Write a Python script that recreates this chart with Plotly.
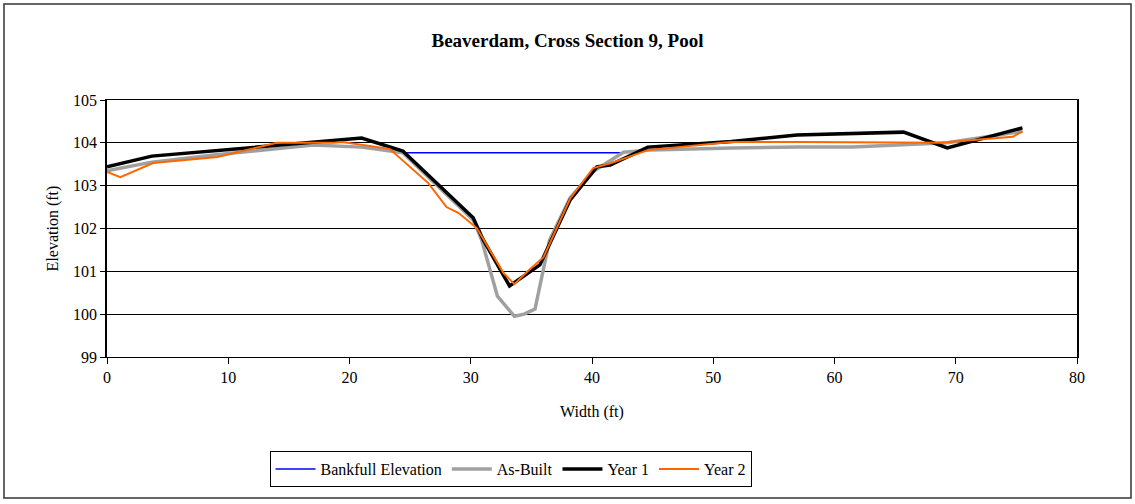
import plotly.graph_objects as go

# Bankfull elevation
bank_x = [24.4, 42.6]
bank_y = [103.77, 103.77]

# As-Built
ab_x = [0, 3.7, 9.0, 14.0, 17.0, 21.0, 24.4, 30.2, 30.9, 32.2, 33.6, 34.4, 35.3, 36.5, 38.2, 40.2, 42.6, 44.8, 51.5, 57.0, 61.5, 69.3, 75.5]
ab_y = [103.35, 103.55, 103.72, 103.87, 103.95, 103.9, 103.77, 102.2, 101.73, 100.42, 99.95, 100.0, 100.12, 101.73, 102.72, 103.35, 103.78, 103.83, 103.88, 103.9, 103.9, 104.0, 104.27]

# Year 1
y1_x = [0, 3.7, 21.0, 24.4, 30.2, 31.0, 33.2, 35.7, 38.2, 40.4, 41.5, 44.6, 51.5, 56.9, 65.7, 69.3, 75.5]
y1_y = [103.44, 103.69, 104.11, 103.81, 102.25, 101.75, 100.66, 101.15, 102.67, 103.44, 103.48, 103.9, 104.03, 104.18, 104.25, 103.88, 104.35]

# Year 2
y2_x = [0, 1.1, 3.8, 9.1, 14.0, 18.7, 19.4, 23.3, 26.5, 28.0, 29.0, 30.5, 32.7, 33.6, 34.6, 36.0, 38.2, 40.1, 41.6, 44.6, 51.4, 57.2, 68.7, 74.7, 75.5]
y2_y = [103.32, 103.2, 103.53, 103.67, 104.0, 104.0, 104.02, 103.86, 103.06, 102.5, 102.36, 102.01, 100.96, 100.7, 100.98, 101.33, 102.7, 103.41, 103.53, 103.83, 104.02, 104.02, 104.0, 104.14, 104.27]

x_ticks = [0, 10, 20, 30, 40, 50, 60, 70, 80]
y_ticks = [99, 100, 101, 102, 103, 104, 105]

FONT = "Liberation Serif"

fig = go.Figure()
fig.add_trace(go.Scatter(x=bank_x, y=bank_y, mode="lines", name="Bankfull Elevation",
                         line=dict(color="#0000FF", width=1.5)))
fig.add_trace(go.Scatter(x=ab_x, y=ab_y, mode="lines", name="As-Built",
                         line=dict(color="#A0A0A0", width=3.5)))
fig.add_trace(go.Scatter(x=y1_x, y=y1_y, mode="lines", name="Year 1",
                         line=dict(color="#000000", width=3.5)))
fig.add_trace(go.Scatter(x=y2_x, y=y2_y, mode="lines", name="Year 2",
                         line=dict(color="#FF6600", width=2)))

fig.update_layout(
    width=1135, height=504,
    margin=dict(l=107, r=58, t=100, b=147),
    paper_bgcolor="white", plot_bgcolor="white",
    font=dict(family=FONT, size=16, color="black"),
    title=dict(text="<b>Beaverdam, Cross Section 9, Pool</b>", x=0.5, xanchor="center",
               y=1 - 40 / 504, yanchor="middle", font=dict(family=FONT, size=19, color="black")),
    showlegend=True,
    legend=dict(orientation="h", x=(510.5 - 107) / 970, xanchor="center",
                y=-(451 - 357) / 257, yanchor="top",
                bordercolor="black", borderwidth=1, bgcolor="white",
                font=dict(family=FONT, size=16), itemwidth=40, tracegroupgap=0),
    shapes=[dict(type="rect", xref="paper", yref="paper",
                 x0=-103 / 970, x1=1 + 54 / 970, y0=-141 / 257, y1=1 + 96 / 257,
                 line=dict(color="#333333", width=1.5), layer="below")],
)
fig.update_xaxes(range=[0, 80], tickvals=x_ticks, ticks="outside", ticklen=6, tickcolor="black",
                 showline=True, linecolor="black", linewidth=1, mirror=True,
                 showgrid=False, zeroline=False,
                 title=dict(text="Width (ft)", font=dict(family=FONT, size=16), standoff=20),
                 tickfont=dict(family=FONT, size=16))
fig.update_yaxes(range=[99, 105], tickvals=y_ticks, ticks="outside", ticklen=5, tickcolor="black",
                 showline=True, linecolor="black", linewidth=1.5, mirror=True,
                 showgrid=True, gridcolor="black", gridwidth=1, zeroline=False,
                 title=dict(text="Elevation (ft)", font=dict(family=FONT, size=16), standoff=10),
                 tickfont=dict(family=FONT, size=16))

fig.write_html("out.html", config={"displayModeBar": False},
               post_script="document.body.style.margin='0';document.body.style.overflow='hidden';")
